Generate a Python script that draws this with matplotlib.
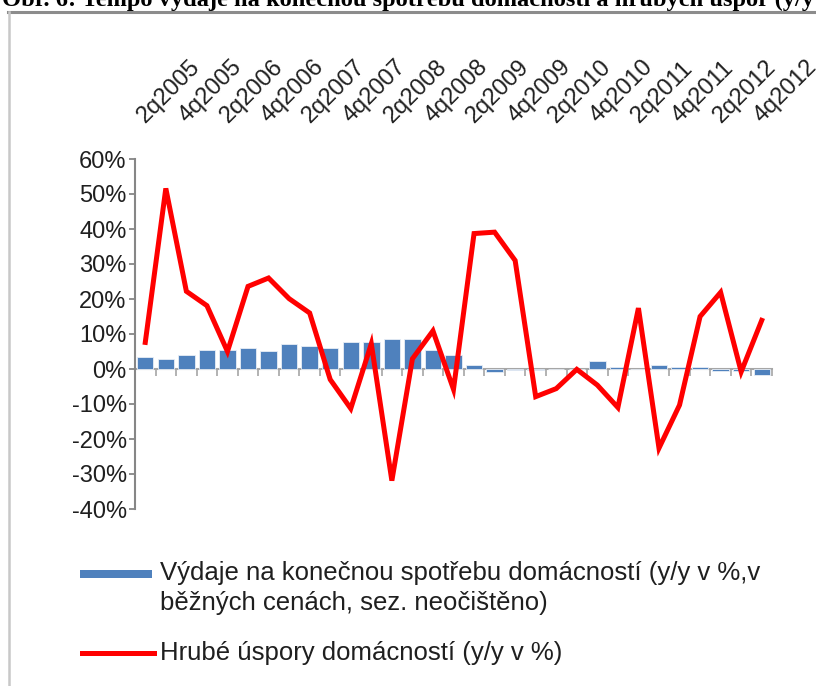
import matplotlib
matplotlib.use("Agg")
import matplotlib.pyplot as plt
from matplotlib.lines import Line2D
from matplotlib.patches import Rectangle
import matplotlib.transforms as mtransforms

# ---- data ----
quarters = ["2q2005", "3q2005", "4q2005", "1q2006", "2q2006", "3q2006", "4q2006",
            "1q2007", "2q2007", "3q2007", "4q2007", "1q2008", "2q2008", "3q2008",
            "4q2008", "1q2009", "2q2009", "3q2009", "4q2009", "1q2010", "2q2010",
            "3q2010", "4q2010", "1q2011", "2q2011", "3q2011", "4q2011", "1q2012",
            "2q2012", "3q2012", "4q2012"]
spotreba = [3.5, 3.0, 4.1, 5.5, 5.5, 6.0, 5.1, 7.2, 6.6, 6.0, 7.7, 7.7, 8.6, 8.6,
            5.5, 4.1, 1.2, -0.9, -0.4, -0.4, -0.1, 0.0, 2.2, 0.7, 0.1, 1.2, 0.6,
            0.5, -0.6, -0.5, -1.8]
uspory = [7.6, 51.6, 22.2, 18.1, 5.0, 23.6, 26.0, 20.1, 16.0, -3.0, -11.3, 7.2,
          -31.9, 2.9, 10.9, -5.8, 38.7, 39.1, 31.0, -7.9, -5.6, -0.1, -4.6, -11.0,
          17.4, -22.6, -10.3, 15.0, 21.9, -0.8, 13.9]
yticks = [-40, -30, -20, -10, 0, 10, 20, 30, 40, 50, 60]
label_bar_1 = "Výdaje na konečnou spotřebu domácností (y/y v %,v"
label_bar_2 = "běžných cenách, sez. neočištěno)"
label_line = "Hrubé úspory domácností (y/y v %)"
title = "Obr. 6: Tempo výdaje na konečnou spotřebu domácností a hrubých úspor (y/y v %)"

W, H = 816, 686
FONT = "Liberation Sans"
FS_Y = 17
FS_X = 17
FS_LEG = 18.5
TXT = "#1f1f1f"
GRID = "#868686"

fig = plt.figure(figsize=(W / 100, H / 100), dpi=100)
fig.patch.set_facecolor("white")

def fx(px):
    return px / W

def fy(py):
    return 1 - py / H

# frame
fig.add_artist(Line2D([fx(8), fx(W + 5)], [fy(12), fy(12)], color="#8c8c8c", lw=2.2))
fig.add_artist(Line2D([fx(9), fx(9)], [fy(12), fy(H + 5)], color="#c8c8c8", lw=1.8))

# title (cut off at top, as in reference)
fig.text(fx(2), fy(6), title, fontfamily="Liberation Serif", fontweight="bold",
         fontsize=17.6, va="baseline", ha="left", color="black")

ax = fig.add_axes([fx(135), fy(509), (772 - 135) / W, 350 / H])
x = list(range(len(quarters)))
ax.bar(x, spotreba, width=0.8, color="#4F81BD", edgecolor="#e8eef6", linewidth=0.6, zorder=2)
ax.plot(x, uspory, color="#FF0000", lw=3.6, zorder=3, solid_joinstyle="miter")

ax.set_xlim(-0.5, len(quarters) - 0.5)
ax.set_ylim(-40, 60)
ax.set_yticks(yticks)
ax.set_yticklabels([f"{v}%" for v in yticks], fontfamily=FONT, fontsize=FS_Y, color=TXT)
ax.tick_params(axis="y", direction="out", length=4.5, width=1.3, color=GRID, pad=1.5)

ax.set_xticks([i - 0.5 for i in range(len(quarters) + 1)])
ax.set_xticklabels([])
ax.tick_params(axis="x", direction="out", length=5, width=1.2, color="#a6a6a6")

for s in ["top", "right"]:
    ax.spines[s].set_visible(False)
ax.spines["left"].set_color(GRID)
ax.spines["left"].set_linewidth(1.5)
ax.spines["bottom"].set_position(("data", 0))
ax.spines["bottom"].set_color("#a6a6a6")
ax.spines["bottom"].set_linewidth(1.5)
ax.spines["bottom"].set_zorder(1)

# category labels at the top, every second quarter
trans = mtransforms.blended_transform_factory(ax.transData, ax.transAxes)
trans = mtransforms.offset_copy(trans, fig=fig, x=4, y=32, units="dots")
for i in range(0, len(quarters), 2):
    ax.text(i, 1, quarters[i], transform=trans, rotation=45, rotation_mode="anchor",
            ha="left", va="bottom", fontfamily=FONT, fontsize=FS_X, color=TXT, clip_on=False)

# legend
fig.add_artist(Rectangle((fx(80), fy(578)), fx(152) - fx(80), 8 / H,
                         facecolor="#4F81BD", edgecolor="none"))
fig.text(fx(160), fy(573), label_bar_1,
         fontfamily=FONT, fontsize=FS_LEG, color=TXT, va="center", ha="left")
fig.text(fx(160), fy(603), label_bar_2,
         fontfamily=FONT, fontsize=FS_LEG, color=TXT, va="center", ha="left")
fig.add_artist(Line2D([fx(82), fx(154)], [fy(653), fy(653)], color="#FF0000", lw=3.6))
fig.text(fx(160), fy(653), label_line, fontfamily=FONT, fontsize=FS_LEG, color=TXT,
         va="center", ha="left")

fig.savefig("out.png", dpi=100, facecolor="white")
